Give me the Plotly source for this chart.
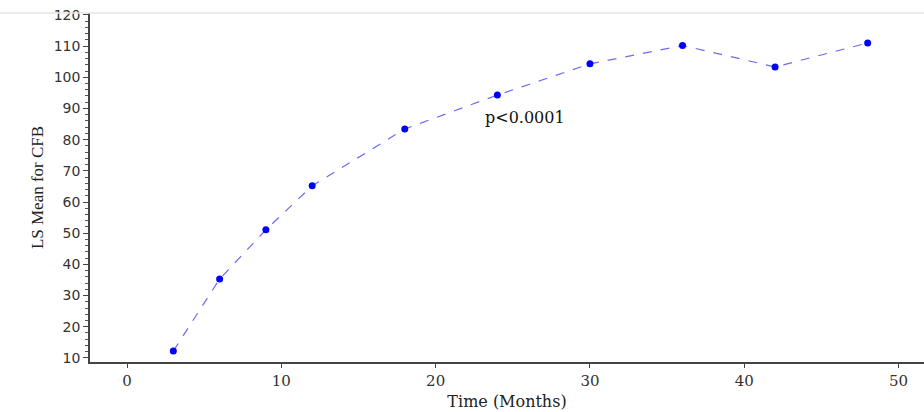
import plotly.graph_objects as go

months = [3, 6, 9, 12, 18, 24, 30, 36, 42, 48]
ls_mean = [12.2, 35.3, 51.1, 65.2, 83.4, 94.3, 104.3, 110.2, 103.3, 111.0]
x_ticks = [0, 10, 20, 30, 40, 50]
y_ticks = [10, 20, 30, 40, 50, 60, 70, 80, 90, 100, 110, 120]

fig = go.Figure()
fig.add_trace(go.Scatter(
    x=months, y=ls_mean, mode="lines",
    line=dict(color="#6b6bf5", width=1.2, dash="dash"),
    showlegend=False, hoverinfo="skip"))
fig.add_trace(go.Scatter(
    x=months, y=ls_mean, mode="markers",
    marker=dict(color="#0000ff", size=7, line=dict(width=0)),
    showlegend=False))

fig.add_annotation(x=25.8, y=87, text="p<0.0001", showarrow=False,
                   font=dict(family="DejaVu Serif", size=16, color="#111111"))

# light top border
fig.add_shape(type="line", xref="paper", yref="paper", x0=-0.2, x1=1, y0=1, y1=1,
              line=dict(color="#e6e6e6", width=1.5))

fig.update_layout(
    width=924, height=412,
    margin=dict(l=90, r=0, t=13, b=50),
    plot_bgcolor="white", paper_bgcolor="white",
    xaxis=dict(range=[-2.4, 51.65], tickvals=x_ticks, ticks="outside", ticklen=4,
               tickcolor="#444", showline=True, linecolor="#444", linewidth=1.5,
               showgrid=False, zeroline=False,
               tickfont=dict(family="DejaVu Serif", size=15, color="#333"),
               title=dict(text="Time (Months)", standoff=7,
                          font=dict(family="DejaVu Serif", size=16, color="#222"))),
    yaxis=dict(range=[8.7, 120.6], tickvals=y_ticks, ticks="outside", ticklen=5,
               tickcolor="#444", showline=True, linecolor="#444", linewidth=1.5,
               showgrid=False, zeroline=False,
               minor=dict(dtick=2, ticks="outside", ticklen=3, tickcolor="#555", showgrid=False),
               tickfont=dict(family="DejaVu Sans", size=14, color="#333"),
               title=dict(text="LS Mean for CFB", standoff=6,
                          font=dict(family="Liberation Serif", size=17, color="#222"))),
)

fig.write_html("out.html")
